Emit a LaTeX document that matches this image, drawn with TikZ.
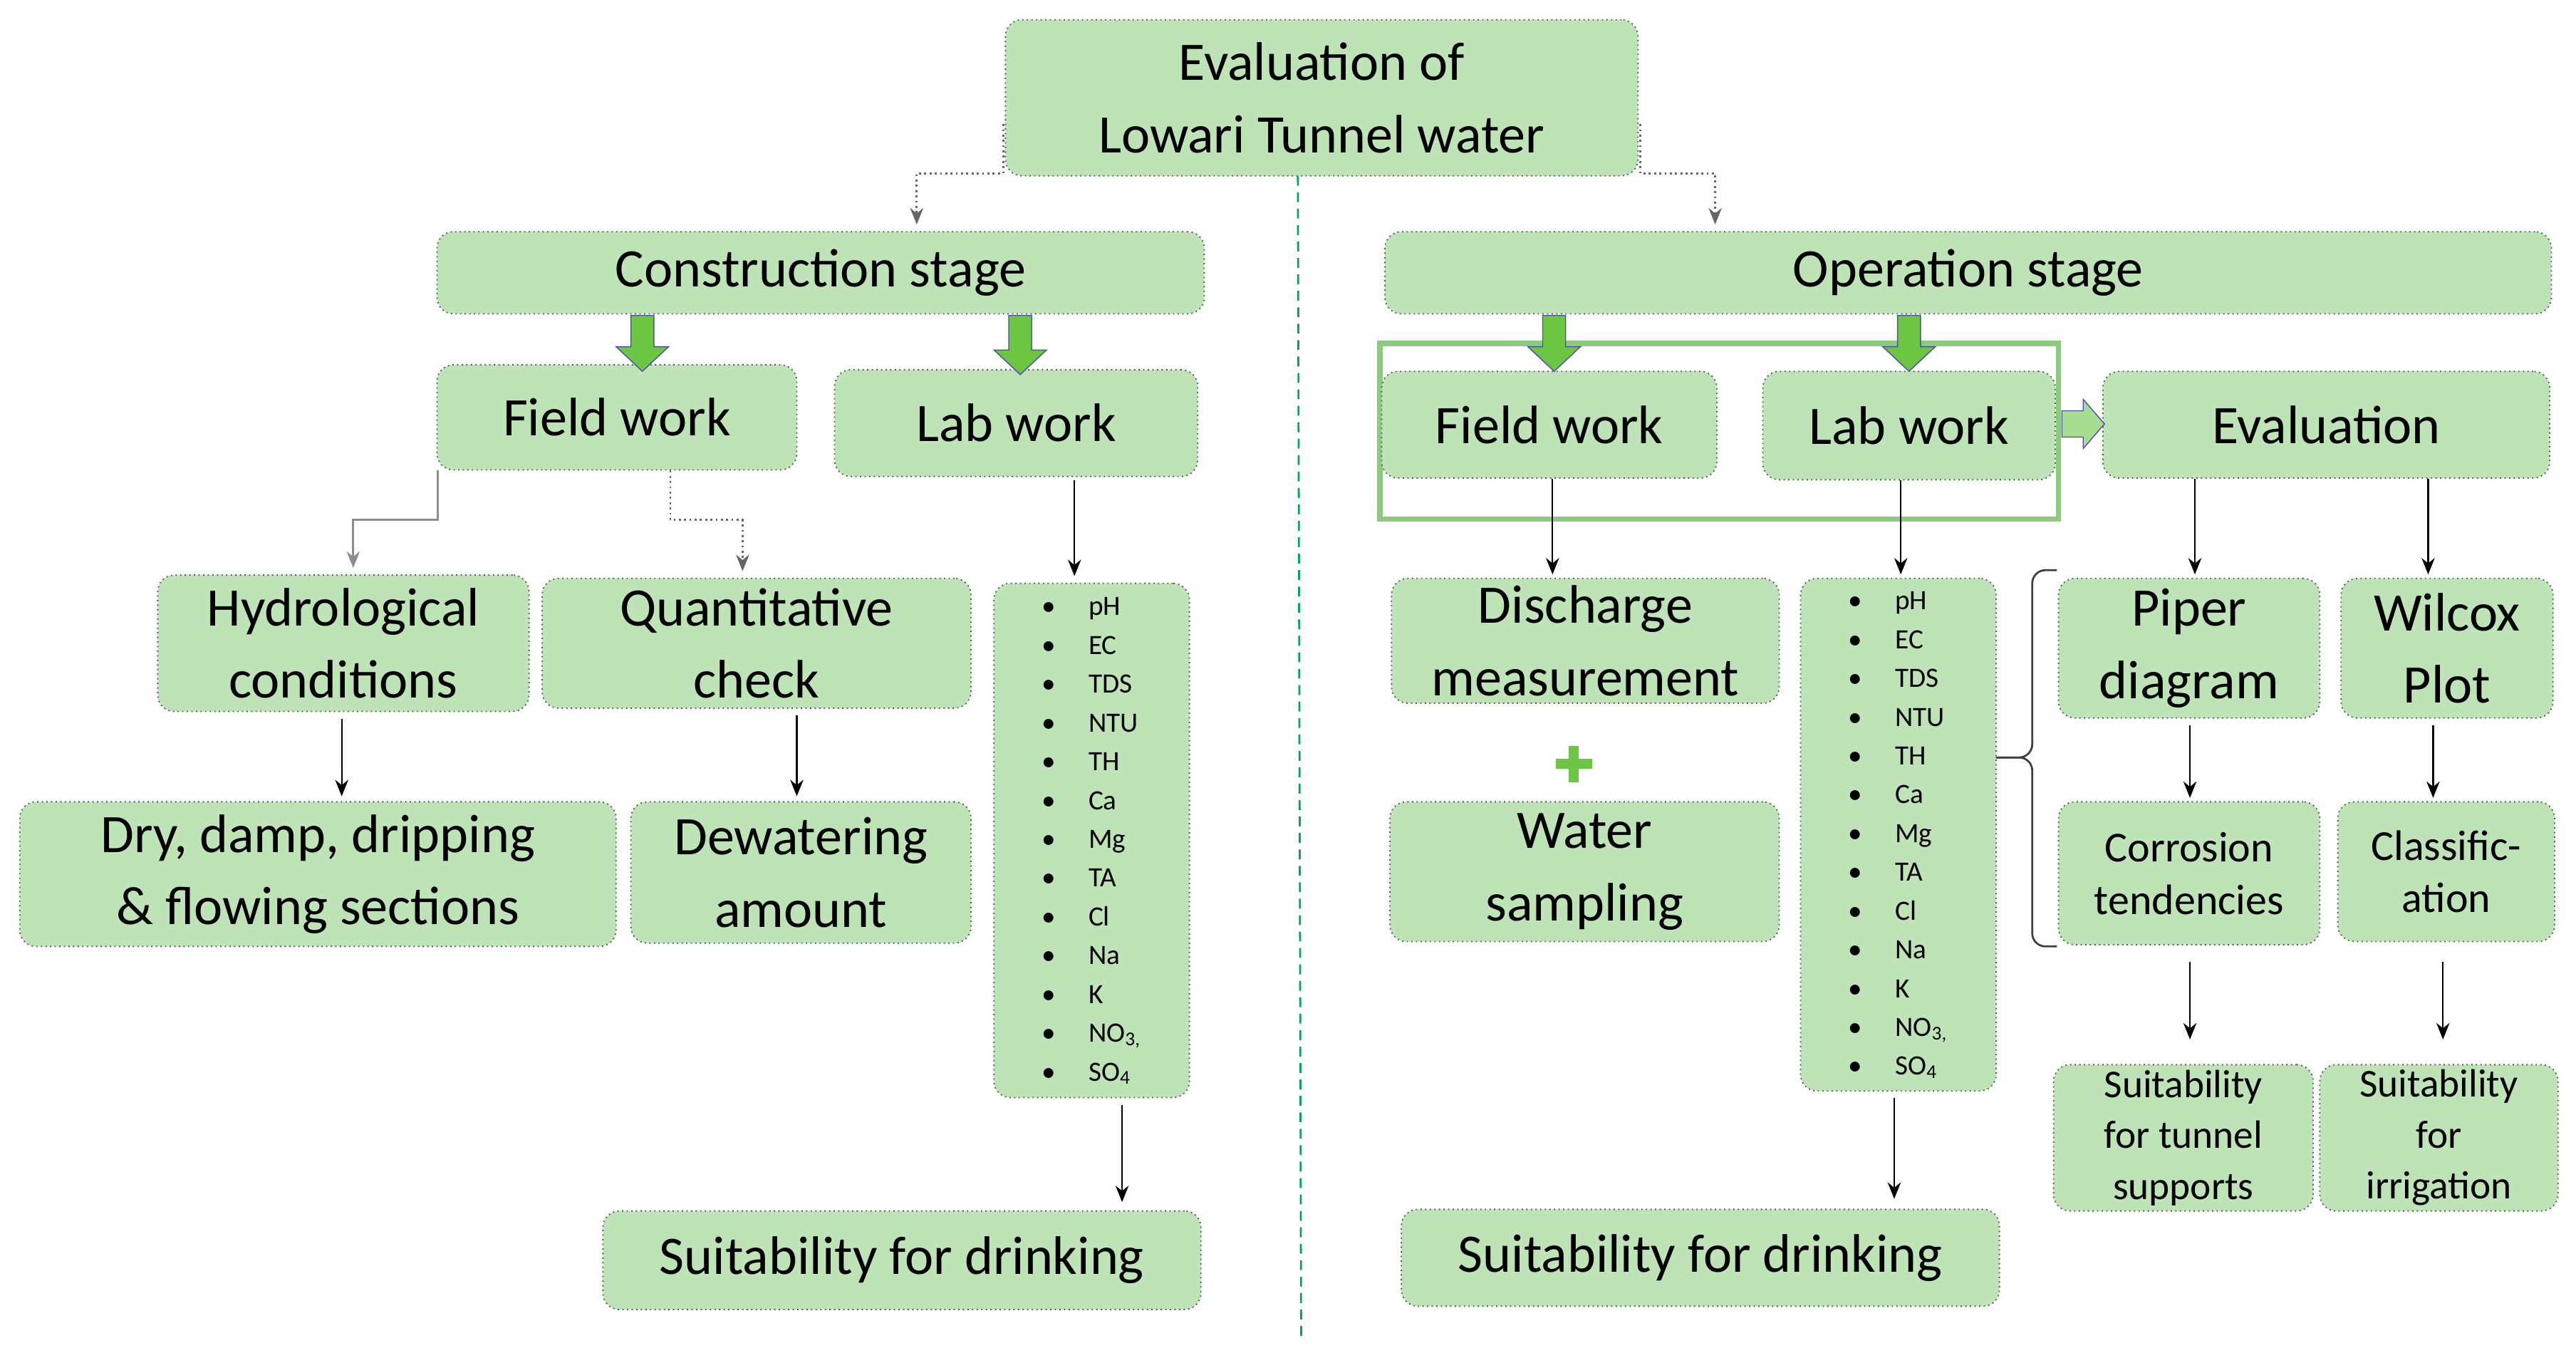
\documentclass[tikz,border=0pt]{standalone}
\usepackage{fontspec}
\setmainfont{Carlito}
\usetikzlibrary{calc,arrows.meta}
\definecolor{boxg}{HTML}{BDE3B6}
\definecolor{garr}{HTML}{6CC644}
\definecolor{frameg}{HTML}{8CCB7E}
\tikzset{
 box/.style={draw=black!65,densely dotted,fill=boxg,rounded corners=5pt,align=center,inner sep=1pt},
 big/.style={font=\fontsize{16.5}{22}\selectfont},
 med/.style={font=\fontsize{13}{16}\selectfont},
 sml/.style={font=\fontsize{12}{15.5}\selectfont},
 lst/.style={font=\fontsize{8.5}{11.8}\selectfont},
 arr/.style={draw=black,-{Stealth[length=5pt,width=4pt]},line width=0.5pt},
 dconn/.style={draw=black!60,densely dotted,line width=0.6pt,-{Stealth[length=5pt,width=4pt]}},
 sconn/.style={draw=black!45,line width=0.6pt,-{Stealth[length=5pt,width=4pt]}},
 garrow/.style={fill=garr,draw=blue!40!gray,line width=0.3pt},
}
\newcommand\bx[7][]{\node[box,#1,minimum width={(#5-#3)*0.5pt},minimum height={(#6-#4)*0.5pt}] (#2) at ({(#3+#5)/2},{(#4+#6)/2}) {#7};}
\newcommand\darr[3]{\path[garrow] (#1-7,#2) -- (#1+7,#2) -- (#1+7,#3-15) -- (#1+16,#3-15) -- (#1,#3) -- (#1-16,#3-15) -- (#1-7,#3-15) -- cycle;}
\newcommand\lsttext{\begin{tabular}{@{}l@{\hspace{10pt}}l@{}}\textbullet&pH\\ \textbullet&EC\\ \textbullet&TDS\\ \textbullet&NTU\\ \textbullet&TH\\ \textbullet&Ca\\ \textbullet&Mg\\ \textbullet&TA\\ \textbullet&Cl\\ \textbullet&Na\\ \textbullet&K\\ \textbullet&NO\textsubscript{3,}\\ \textbullet&SO\textsubscript{4}\end{tabular}}
\begin{document}
\begin{tikzpicture}[x=0.5pt,y=-0.5pt]
\useasboundingbox (0,0) rectangle (1568,820);
% divider
\draw[teal!70!green,densely dashed,line width=0.6pt] (790,107) -- (792,815);
% frame
\draw[frameg,line width=1.6pt] (840,209) rectangle (1253,316);
\bx[big]{top}{612}{12}{997}{107}{Evaluation of\\Lowari Tunnel water}
\bx[big]{cons}{266}{141}{733}{191}{Construction stage}
\bx[big]{oper}{843}{141}{1553}{191}{Operation stage}
\bx[big]{lfield}{266}{222}{485}{286}{Field work}
\bx[big]{llab}{508}{225}{729}{290}{Lab work}
\bx[big]{rfield}{841}{226}{1045}{291}{Field work}
\bx[big]{rlab}{1073}{226}{1251}{292}{Lab work}
\bx[big]{eval}{1280}{226}{1552}{291}{Evaluation}
\bx[big]{hydro}{96}{350}{322}{433}{Hydrological\\conditions}
\bx[big]{quant}{330}{352}{591}{431}{Quantitative\\check}
\bx[lst]{llist}{605}{355}{724}{668}{\lsttext}
\bx[big]{dry}{12}{488}{375}{576}{Dry, damp, dripping\\\& flowing sections}
\bx[big]{dew}{384}{488}{591}{574}{Dewatering\\amount}
\bx[big]{lsuit}{367}{737}{731}{797}{Suitability for drinking}
\bx[big]{disch}{847}{352}{1083}{428}{Discharge\\measurement}
\bx[big]{samp}{846}{488}{1083}{573}{Water\\sampling}
\bx[lst]{rlist}{1096}{352}{1215}{664}{\lsttext}
\bx[big]{piper}{1253}{352}{1412}{437}{Piper\\diagram}
\bx[big]{wil}{1425}{352}{1554}{437}{Wilcox\\Plot}
\bx[med]{corr}{1253}{488}{1412}{575}{Corrosion\\tendencies}
\bx[med]{cls}{1423}{488}{1555}{573}{Classific-\\ation}
\bx[sml]{tun}{1250}{648}{1408}{737}{Suitability\\for tunnel\\supports}
\bx[sml]{irr}{1412}{648}{1557}{737}{Suitability\\for\\irrigation}
\bx[big]{rsuit}{853}{736}{1217}{795}{Suitability for drinking}
% top connectors
\draw[dconn] ($(top.west)+(-1,16)$) -- ++(0,30) -| ($(cons.north)+(58.5,-4)$);
\draw[dconn] ($(top.east)+(1,16)$) -- ++(0,30) -| ($(oper.north)+(-154,-4)$);
% left field work connectors
\draw[sconn] ($(lfield.south west)+(1,0)$) -- ++(0,30) -| ($(hydro.north)+(6,-4)$);
\draw[dconn] ($(lfield.south)+(32.5,0)$) -- ++(0,30) -| ($(quant.north)+(-8.5,-4)$);
% vertical arrows
\draw[arr] ($(hydro.south)+(-1,4)$) -- ($(dry.north)+(14.5,-3)$);
\draw[arr] ($(quant.south)+(24.5,4)$) -- ($(dew.north)+(-2.5,-3)$);
\draw[arr] ($(llab.south)+(35.5,2)$) -- ($(llist.north)+(-10.5,-4)$);
\draw[arr] ($(llist.south)+(18.5,4)$) -- ($(lsuit.north)+(134,-5)$);
\draw[arr] ($(rfield.south)+(2,0)$) -- ($(disch.north)+(-20,-2)$);
\draw[arr] ($(rlab.south)+(-5,0)$) -- ($(rlist.north)+(1.5,-2)$);
\draw[arr] ($(rlist.south)+(-2.5,4)$) -- ($(rsuit.north)+(118,-6)$);
\draw[arr] ($(eval.south)+(-80,0)$) -- ($(piper.north)+(3.5,-2)$);
\draw[arr] ($(eval.south)+(62,0)$) -- ($(wil.north)+(-11.5,-2)$);
\draw[arr] ($(piper.south)+(0.5,4)$) -- ($(corr.north)+(0.5,-2)$);
\draw[arr] ($(wil.south)+(-8.5,4)$) -- ($(cls.north)+(-8,-2)$);
\draw[arr] ($(corr.south)+(0.5,10)$) -- ($(tun.north)+(4,-15)$);
\draw[arr] ($(cls.south)+(-2,12)$) -- ($(irr.north)+(2.5,-15)$);
% brace
\draw[black!75,line width=0.6pt,rounded corners=4pt] (1252,347) -- (1237,347) -- (1237,461) -- (1215,461);
\draw[black!75,line width=0.6pt,rounded corners=4pt] (1215,461) -- (1237,461) -- (1237,576) -- (1252,576);
% block arrows
\darr{391}{192}{226}
\darr{621}{192}{228}
\darr{946}{192}{226}
\darr{1162}{192}{226}
\path[garrow,fill=garr!60!white] (1255,250) -- (1268,250) -- (1268,243) -- (1281,258) -- (1268,273) -- (1268,266) -- (1255,266) -- cycle;
% plus
\draw[garr,line width=3pt] (958,454) -- (958,476) (947,465) -- (969,465);
\end{tikzpicture}
\end{document}
